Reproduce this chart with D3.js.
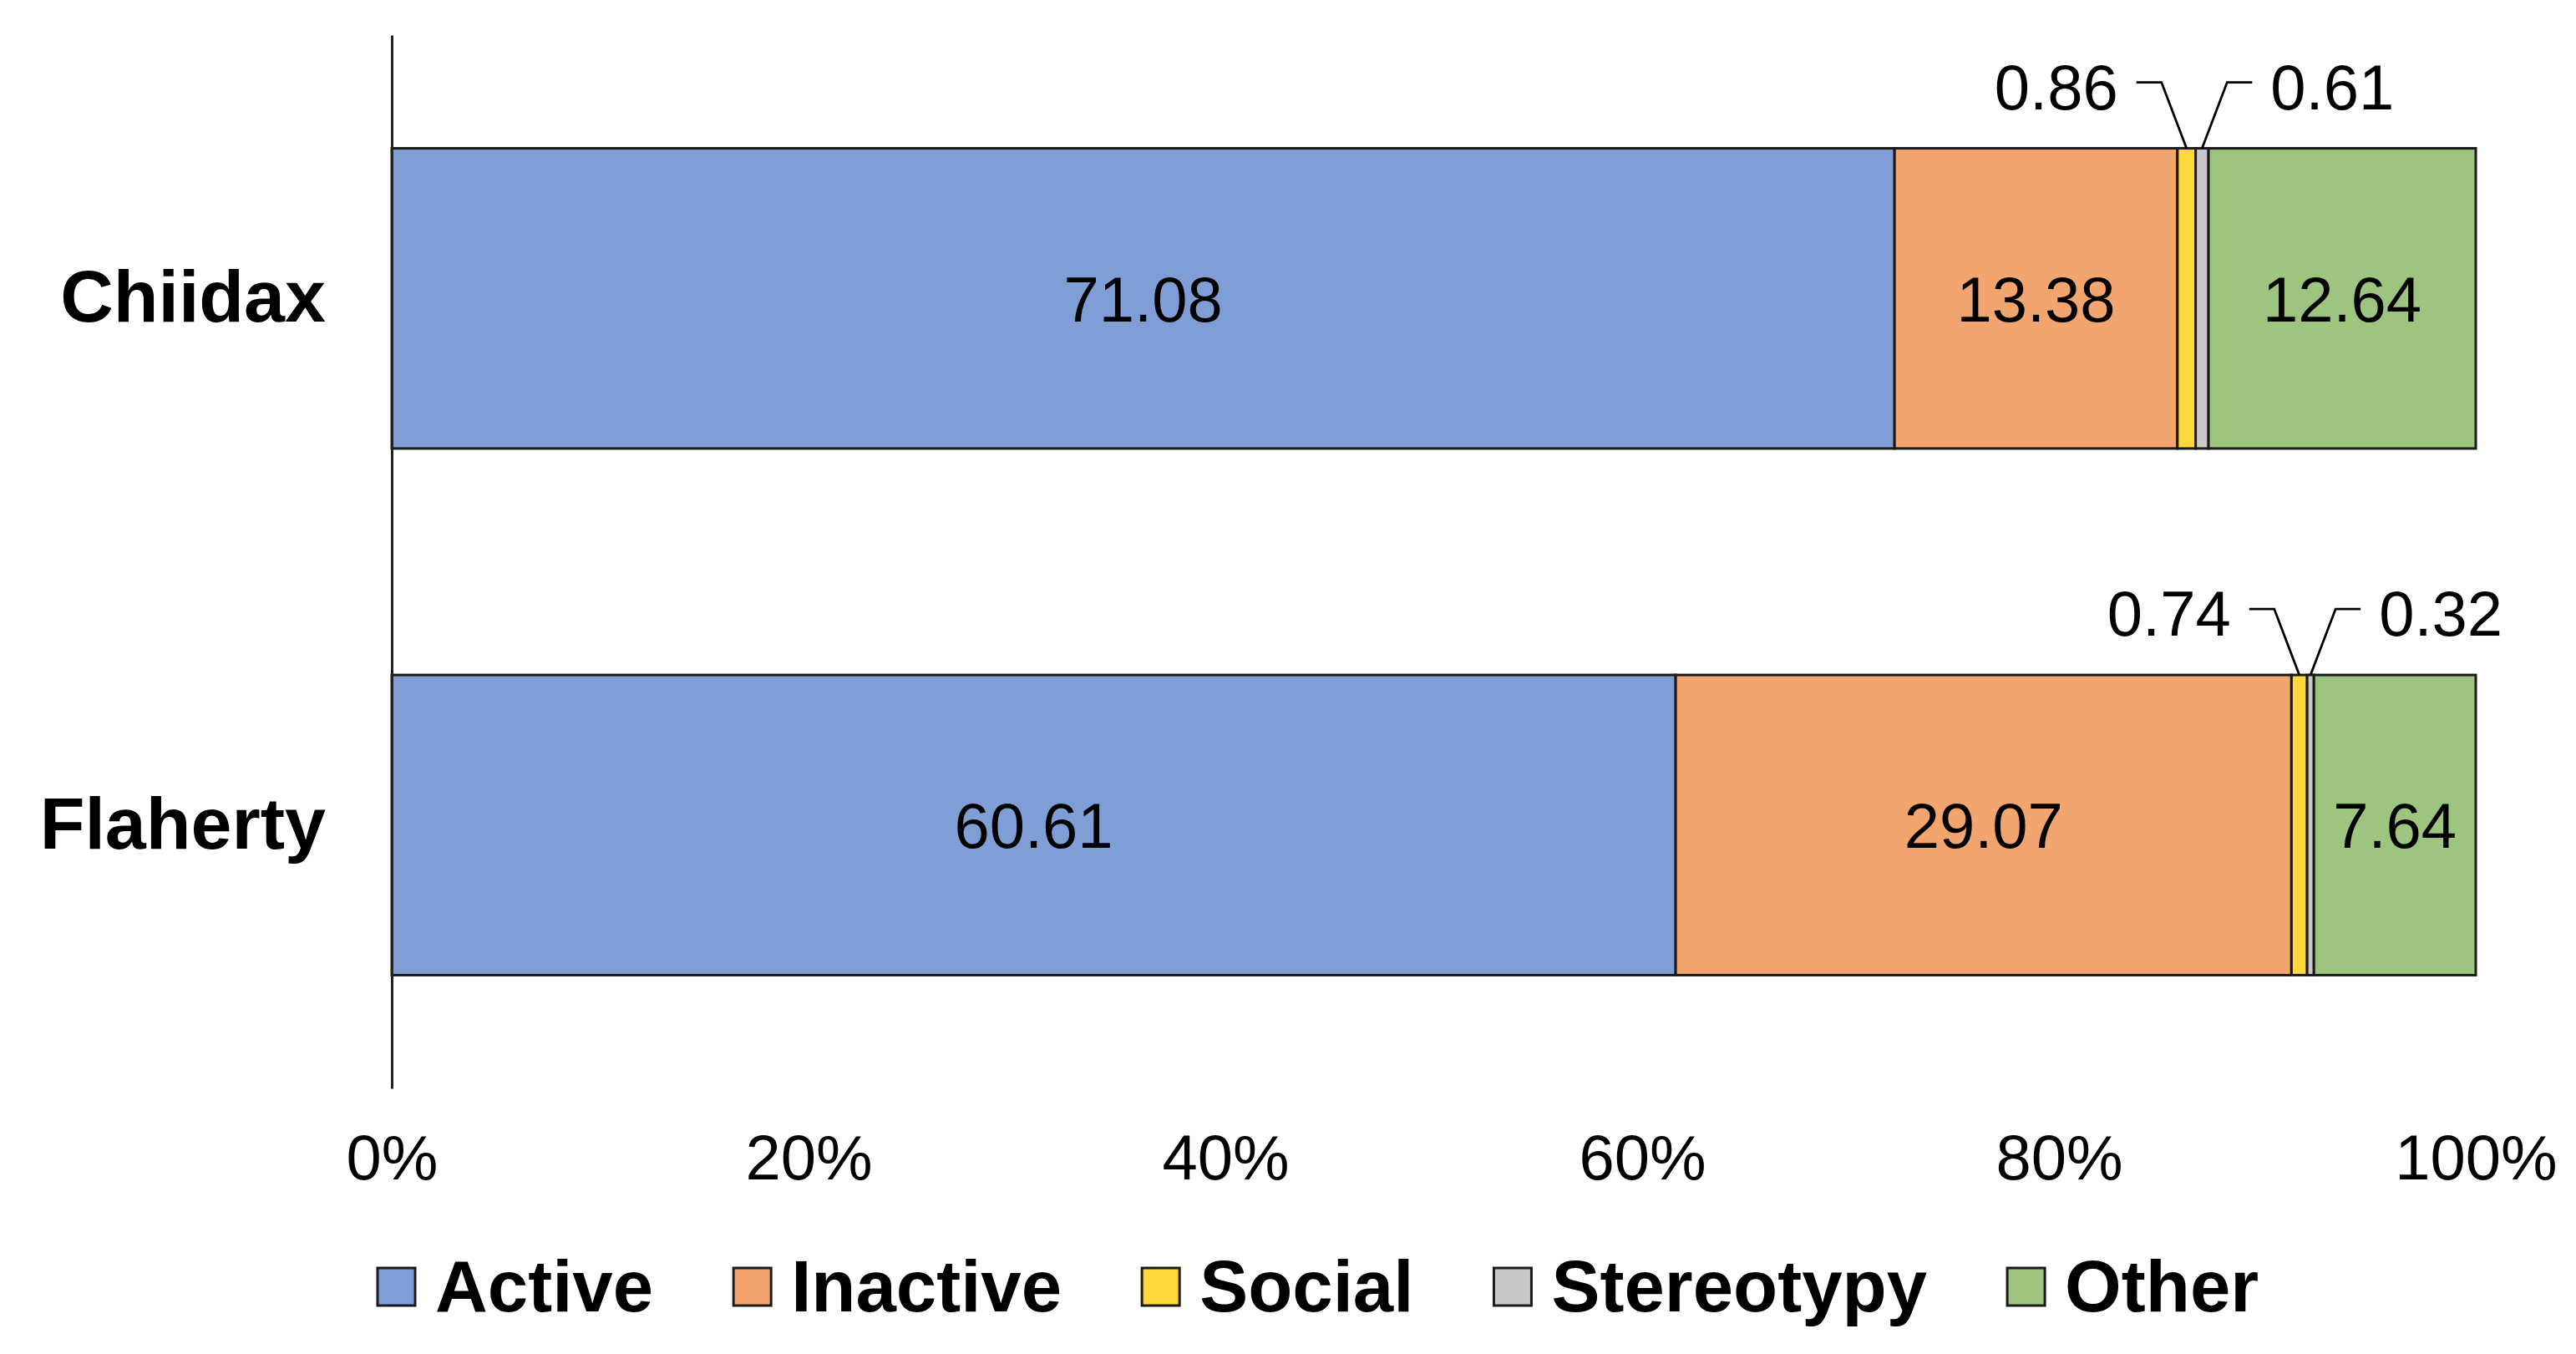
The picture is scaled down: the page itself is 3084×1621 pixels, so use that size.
<!DOCTYPE html>
<html lang="en">
<head>
<meta charset="utf-8">
<title>Activity budget</title>
<script src="https://d3js.org/d3.v7.min.js"></script>
<style>
  body { margin: 0; background: #fff; }
  text { font-family: "Liberation Sans", Arial, sans-serif; }
</style>
</head>
<body>
<script>
var subjects = ["Chiidax", "Flaherty"];
var behaviours = ["Active", "Inactive", "Social", "Stereotypy", "Other"];
var chiidax = [71.08, 13.38, 0.86, 0.61, 12.64];
var flaherty = [60.61, 29.07, 0.74, 0.32, 7.64];
var tickValues = [0, 0.2, 0.4, 0.6, 0.8, 1];
var colours = ["#7f9ed6", "#f2a56f", "#ffd83a", "#c9c9c9", "#9dc580"];

var w = 3084;
var h = 1621;

var rows = [chiidax, flaherty].map(function (vals, i) {
  var r = { subject: subjects[i] };
  behaviours.forEach(function (b, j) { r[b] = vals[j]; });
  return r;
});

var colour = d3.scaleOrdinal().domain(behaviours).range(colours);

var xScale = d3.scaleLinear()
  .domain([0, 1])
  .range([469, 2964]);

var yScale = d3.scaleBand()
  .domain(subjects)
  .range([42, 1303])
  .paddingInner(0.43)
  .paddingOuter(0.215);

var svg = d3.select("body")
  .append("svg")
  .attr("width", w)
  .attr("height", h);

// 100% stacked
var stack = d3.stack()
  .keys(behaviours)
  .offset(d3.stackOffsetExpand);

var series = stack(rows);

var layers = svg.selectAll("g.layer")
  .data(series)
  .join("g")
  .attr("class", "layer")
  .attr("fill", d => colour(d.key));

layers.selectAll("rect")
  .data(d => d)
  .join("rect")
  .attr("x", d => xScale(d[0]))
  .attr("width", d => xScale(d[1]) - xScale(d[0]))
  .attr("y", d => yScale(d.data.subject))
  .attr("height", yScale.bandwidth())
  .attr("stroke", "#1a1a1a")
  .attr("stroke-width", 3);

// value labels, small ones get a leader line
var labels = svg.append("g");
series.forEach(function (s) {
  s.forEach(function (p) {
    var v = p.data[s.key];
    var cx = (xScale(p[0]) + xScale(p[1])) / 2;
    var top = yScale(p.data.subject);
    if (v >= 5) {
      labels.append("text")
        .attr("x", cx)
        .attr("y", top + yScale.bandwidth() / 2)
        .attr("dy", "0.36em")
        .attr("text-anchor", "middle")
        .attr("font-size", 76)
        .attr("fill", "#000")
        .text(v.toFixed(2));
    } else {
      var side = s.key === "Social" ? -1 : 1;
      var ey = top - 79;
      labels.append("path")
        .attr("d", d3.line()([[cx, top], [cx + side * 30, ey], [cx + side * 60, ey]]))
        .attr("fill", "none")
        .attr("stroke", "#000")
        .attr("stroke-width", 2.8);
      labels.append("text")
        .attr("x", cx + side * 82)
        .attr("y", top - 47)
        .attr("text-anchor", side < 0 ? "end" : "start")
        .attr("font-size", 76)
        .attr("fill", "#000")
        .text(v.toFixed(2));
    }
  });
});

// x axis (labels only)
var xAxis = d3.axisBottom(xScale)
  .tickValues(tickValues)
  .tickFormat(d3.format(".0%"))
  .tickSize(0)
  .tickPadding(3);

var gx = svg.append("g")
  .attr("transform", "translate(0,1355)")
  .call(xAxis);
gx.select(".domain").remove();
gx.selectAll("text")
  .attr("font-size", 76)
  .attr("font-family", "'Liberation Sans', Arial, sans-serif")
  .attr("fill", "#000");

// y axis
var yAxis = d3.axisLeft(yScale)
  .tickSize(0)
  .tickSizeOuter(0)
  .tickPadding(79);

var gy = svg.append("g")
  .attr("transform", "translate(469,0)")
  .call(yAxis);
gy.select(".domain")
  .attr("stroke", "#222")
  .attr("stroke-width", 3);
gy.selectAll("text")
  .attr("font-size", 88)
  .attr("font-weight", "bold")
  .attr("font-family", "'Liberation Sans', Arial, sans-serif")
  .attr("fill", "#000");

// legend
var legend = svg.append("g");
var lx = 452;
behaviours.forEach(function (b) {
  legend.append("rect")
    .attr("x", lx)
    .attr("y", 1518)
    .attr("width", 45)
    .attr("height", 45)
    .attr("fill", colour(b))
    .attr("stroke", "#1a1a1a")
    .attr("stroke-width", 3);
  var t = legend.append("text")
    .attr("x", lx + 69)
    .attr("y", 1570)
    .attr("font-size", 87)
    .attr("font-weight", "bold")
    .attr("fill", "#000")
    .text(b);
  lx += 69 + t.node().getComputedTextLength() + 96;
});
</script>
</body>
</html>
